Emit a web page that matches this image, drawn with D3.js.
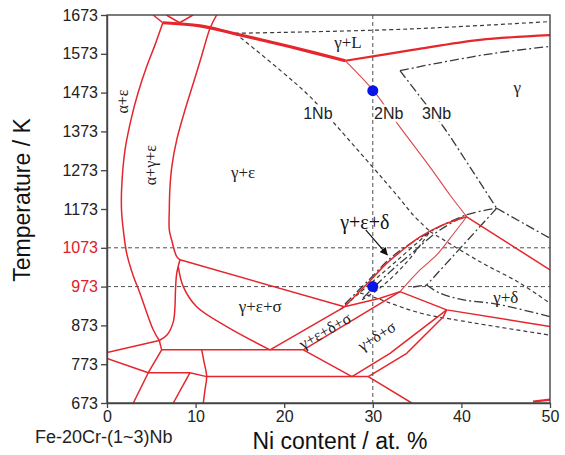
<!DOCTYPE html>
<html>
<head>
<meta charset="utf-8">
<script src="https://cdn.jsdelivr.net/npm/d3@7"></script>
<style>
  body { margin: 0; background: #fff; }
  svg { display: block; }
</style>
</head>
<body>
<svg id="chart" width="565" height="455"></svg>
<script>
// ---------- axis ticks ----------
const niTicks = [0, 10, 20, 30, 40, 50];
const tempTicks = [673, 773, 873, 973, 1073, 1173, 1273, 1373, 1473, 1573, 1673];
const highlightTemps = [973, 1073];
const refNi = [30];

// ---------- Fe-20Cr-2Nb boundaries (solid), points are [Ni at.%, T / K] ----------
const alphaTop      = [[5.2, 1673], [6.3, 1653]];
const notchTop      = [[6.7, 1673], [8.2, 1653], [9.7, 1673]];
const liquidusThick = [[6.3, 1653], [10.5, 1645], [14.2, 1626], [20.7, 1591], [26.9, 1555]];
const liquidusRight = [[26.9, 1555], [34.5, 1583], [42.1, 1609], [50, 1621]];
const solvus2       = [[26.9, 1555], [30, 1480], [33.07, 1384], [36.46, 1281], [38.71, 1209], [40.6, 1153]];
const boundaryA     = [[6.3, 1653], [5.42, 1596], [4.48, 1540], [3.5, 1472], [2.79, 1411], [2.03, 1325],
                       [1.66, 1230], [1.64, 1170], [1.84, 1119], [2.22, 1059], [2.93, 1003], [3.72, 956],
                       [5.23, 861], [5.9, 834]];
const boundaryB     = [[12.38, 1673], [11.63, 1639], [10.61, 1562], [9.74, 1497], [8.8, 1428], [7.87, 1351],
                       [7.34, 1286], [7.11, 1230], [7.03, 1170], [7.03, 1119], [7.3, 1093], [7.87, 1050],
                       [8.24, 1042]];
const boundaryC     = [[8.24, 1042], [7.87, 1007], [7.73, 964], [7.67, 921], [7.48, 882], [6.77, 848], [5.9, 834]];
const sigmaTop      = [[8.24, 1042], [26.8, 921]];
const sigmaBottom   = [[8.05, 1024], [8.61, 973], [10.12, 921], [13.51, 870], [18.4, 810]];
const stripUpper    = [[18.4, 810], [26.8, 921]];
const stripLower    = [[22.16, 810], [33.07, 960]];
const deltaSigmaTop = [[26.8, 921], [30.81, 943], [33.07, 960]];
const lensUpper     = [[26.8, 921], [28.22, 954], [29.68, 987.5], [31.38, 1029], [33.07, 1062],
                       [35.33, 1101], [37.58, 1129], [40.6, 1153]];
const lensLower     = [[33.07, 960], [35.33, 1016], [37.21, 1054.5], [39.09, 1108.6], [40.6, 1153]];
const peakRight     = [[40.6, 1153], [50, 1016]];
const deltaRight    = [[33.07, 960], [38.34, 913], [50, 870]];
const sigmaRightA   = [[27.65, 741], [31.94, 801], [38.34, 913]];
const sigmaRightB   = [[29.49, 741], [33.83, 801], [37.96, 895.5], [38.34, 913]];
const isoUpper      = [[6.17, 810], [22.16, 810]];
const sigmaDrop     = [[22.16, 810], [27.65, 741]];
const isoLower      = [[11.25, 741], [29.49, 741]];
const lowDrop       = [[29.49, 741], [34.39, 673]];
const leftUpper     = [[0, 803], [5.9, 834]];
const leftJoin      = [[5.9, 834], [6.17, 810]];
const leftDrop      = [[6.17, 810], [4.66, 751], [2.97, 673]];
const leftLower     = [[0, 788], [4.66, 751]];
const isoMid        = [[4.66, 751], [9.37, 751]];
const midStep       = [[9.37, 751], [11.25, 741]];
const midDrop       = [[9.37, 751], [7.48, 673]];
const vert11        = [[10.69, 810], [10.95, 779], [11.25, 741], [11.06, 707], [10.87, 673]];
const cornerMark    = [[48.08, 676.5], [50, 681.5]];

// ---------- Fe-20Cr-1Nb boundaries (dashed) ----------
const liquidus1  = [[14.45, 1626], [19.53, 1628], [34.2, 1637], [50, 1656]];
const solvus1    = [[14.45, 1626], [19.53, 1531], [22.91, 1462.5], [26.3, 1377], [32.7, 1209], [34.54, 1158], [36.46, 1115]];
const right1     = [[36.46, 1115], [42.1, 1037], [46.61, 982], [50, 930]];
const lens1Upper = [[26.3, 913], [29.68, 980], [33.07, 1047], [36.46, 1115]];
const lens1Lower = [[28.78, 939], [30.81, 969.5], [33.86, 1036.5], [36.46, 1115]];
const lower1     = [[28.56, 957], [30.44, 943], [35.33, 905], [40.18, 884], [50, 848]];

// ---------- Fe-20Cr-3Nb boundaries (dash-dot) ----------
const liquidus3  = [[33.07, 1529.5], [37.2, 1548.5], [43.6, 1574], [50, 1592]];
const solvus3    = [[33.07, 1529.5], [35.33, 1462.5], [37.96, 1385], [40.97, 1281], [43.98, 1175]];
const right3     = [[43.98, 1175], [50, 1097.5]];
const drop3      = [[43.98, 1175], [36.08, 977]];
const lower3     = [[36.08, 977], [37.58, 956], [40.22, 939], [43.98, 928], [50, 895.5]];
const stub3      = [[34.54, 972], [36.08, 977]];
const lens3Upper = [[26.86, 928], [29.68, 993], [32.28, 1052], [36.46, 1114], [40.6, 1158], [43.98, 1175]];
const lens3Lower = [[28.9, 944], [31.94, 1011], [34.54, 1062], [37.58, 1119], [40.6, 1158]];

// ---------- marked compositions ----------
const points = [[30, 1478], [30, 973]];

// ---------- phase-field labels: [text, Ni, T] ----------
const phaseLabels = [
  ["γ+L", 27.2, 1601],
  ["γ", 46.3, 1485],
  ["γ+ε", 15.35, 1266],
  ["γ+ε+σ", 17.3, 923],
  ["γ+δ", 45.0, 946]
];
const verticalLabels = [["α+ε", 1.8, 1450], ["α+γ+ε", 4.9, 1286]];
const slantLabels = [["γ+ε+δ+σ", 24.6, 859, -30], ["γ+δ+σ", 30.44, 846, -32]];
const alloyLabels = [["1Nb", 23.8, 1420], ["2Nb", 31.8, 1420], ["3Nb", 37.2, 1420]];
const lensLabel = ["γ+ε+δ", 29.1, 1140];
const lensArrow = [[29.2, 1119], [31.64, 1054.5]];

// ---------- drawing ----------
const svg = d3.select("#chart");
const x = d3.scaleLinear().domain([0, 50]).range([107, 550]);
const y = d3.scaleLinear().domain([673, 1673]).range([403, 15]);

const RED = "#e5262c";
const INK = "#3a3a3a";
const styles = {
  thick:  { stroke: RED, width: 3.2 },
  bold:   { stroke: RED, width: 2.2 },
  red:    { stroke: RED, width: 1.5 },
  thin:   { stroke: "#d9474b", width: 1.1 },
  dash:   { stroke: INK, width: 1.2, dash: "4,3" },
  dashdot:{ stroke: INK, width: 1.3, dash: "9,3,2,3" }
};

const smooth = d3.line().x(d => x(d[0])).y(d => y(d[1])).curve(d3.curveCatmullRom.alpha(0.5));
const straight = d3.line().x(d => x(d[0])).y(d => y(d[1]));

function draw(g, pts, style, linear) {
  const s = styles[style];
  g.append("path")
    .attr("d", (linear ? straight : smooth)(pts))
    .attr("fill", "none")
    .attr("stroke", s.stroke)
    .attr("stroke-width", s.width)
    .attr("stroke-dasharray", s.dash || null)
    .attr("stroke-linejoin", "round");
}

const plot = svg.append("g");
svg.append("defs").append("clipPath").attr("id", "clip")
  .append("rect").attr("x", 107).attr("y", 15).attr("width", 443).attr("height", 388);
plot.attr("clip-path", "url(#clip)");

// horizontal reference isotherms
plot.selectAll("line.href").data(highlightTemps).enter().append("line")
  .attr("x1", x(0)).attr("x2", x(50))
  .attr("y1", d => y(d)).attr("y2", d => y(d))
  .attr("stroke", "#505050").attr("stroke-width", 1).attr("stroke-dasharray", "4,3");

// 1Nb
[liquidus1, solvus1, right1, lens1Upper, lens1Lower, lower1].forEach(p => draw(plot, p, "dash"));
// 3Nb
[liquidus3, solvus3, lens3Upper, lens3Lower, lower3].forEach(p => draw(plot, p, "dashdot"));
[right3, drop3, stub3].forEach(p => draw(plot, p, "dashdot", true));

// 2Nb
draw(plot, liquidusThick, "thick");
draw(plot, liquidusRight, "bold");
draw(plot, solvus2, "thin");
draw(plot, lensLower, "thin");
[alphaTop, boundaryA, boundaryB, boundaryC, sigmaBottom, lensUpper].forEach(p => draw(plot, p, "red"));
draw(plot, notchTop, "red", true);
[sigmaTop, stripUpper, stripLower, deltaSigmaTop, peakRight, deltaRight, sigmaRightA, sigmaRightB,
 isoUpper, sigmaDrop, isoLower, lowDrop, leftUpper, leftJoin, leftDrop, leftLower, isoMid, midStep,
 midDrop].forEach(p => draw(plot, p, "red", true));
draw(plot, vert11, "red");
draw(plot, cornerMark, "bold", true);

// labels
const serif = "'Liberation Serif', 'Times New Roman', serif";
const sans = "'Liberation Sans', Arial, Helvetica, sans-serif";

svg.selectAll("text.nb").data(alloyLabels).enter().append("text")
  .attr("x", d => x(d[1])).attr("y", d => y(d[2]))
  .attr("text-anchor", "middle").attr("dominant-baseline", "central")
  .attr("font-family", sans).attr("font-size", 16).attr("fill", "#222")
  .attr("stroke", "#fff").attr("stroke-width", 5).attr("paint-order", "stroke")
  .text(d => d[0]);

svg.selectAll("text.phase").data(phaseLabels).enter().append("text")
  .attr("x", d => x(d[1])).attr("y", d => y(d[2]))
  .attr("text-anchor", "middle").attr("dominant-baseline", "central")
  .attr("font-family", serif).attr("font-size", 17).attr("fill", "#222")
  .text(d => d[0]);

svg.selectAll("text.vert").data(verticalLabels).enter().append("text")
  .attr("transform", d => `translate(${x(d[1])},${y(d[2])}) rotate(-90)`)
  .attr("text-anchor", "middle").attr("dominant-baseline", "central")
  .attr("font-family", serif).attr("font-size", 16).attr("fill", "#222")
  .text(d => d[0]);

svg.selectAll("text.slant").data(slantLabels).enter().append("text")
  .attr("transform", d => `translate(${x(d[1])},${y(d[2])}) rotate(${d[3]})`)
  .attr("text-anchor", "middle").attr("dominant-baseline", "central")
  .attr("font-family", serif).attr("font-size", 16).attr("fill", "#222")
  .text(d => d[0]);

svg.append("text")
  .attr("x", x(lensLabel[1])).attr("y", y(lensLabel[2]))
  .attr("text-anchor", "middle").attr("dominant-baseline", "central")
  .attr("font-family", serif).attr("font-size", 20).attr("fill", "#111")
  .text(lensLabel[0]);

// arrow pointing into the narrow three-phase lens
svg.append("defs").append("marker")
  .attr("id", "head").attr("viewBox", "0 0 10 10").attr("refX", 9).attr("refY", 5)
  .attr("markerWidth", 9).attr("markerHeight", 8).attr("markerUnits", "userSpaceOnUse")
  .attr("orient", "auto")
  .append("path").attr("d", "M0,0 L10,5 L0,10 Z").attr("fill", "#111");
svg.append("path")
  .attr("d", straight(lensArrow))
  .attr("stroke", "#111").attr("stroke-width", 1.2).attr("fill", "none")
  .attr("marker-end", "url(#head)");

// vertical reference composition
svg.selectAll("line.vref").data(refNi).enter().append("line")
  .attr("x1", d => x(d)).attr("x2", d => x(d))
  .attr("y1", y(1673)).attr("y2", y(673))
  .attr("stroke", "#505050").attr("stroke-width", 1).attr("stroke-dasharray", "4,3");

// marked compositions
svg.selectAll("circle.pt").data(points).enter().append("circle")
  .attr("cx", d => x(d[0])).attr("cy", d => y(d[1])).attr("r", 5.5)
  .attr("fill", "#0a14e6");

// frame
svg.append("rect").attr("x", 107).attr("y", 15).attr("width", 443).attr("height", 388)
  .attr("fill", "none").attr("stroke", "#444").attr("stroke-width", 1.4);

// axes
const yAxis = svg.append("g").attr("transform", `translate(${x(0)},0)`)
  .call(d3.axisLeft(y).tickValues(tempTicks).tickSize(6).tickSizeOuter(0).tickPadding(3).tickFormat(d3.format("d")));
const xAxis = svg.append("g").attr("transform", `translate(0,${y(673)})`)
  .call(d3.axisBottom(x).tickValues(niTicks).tickSize(5).tickSizeOuter(0).tickPadding(3).tickFormat(d3.format("d")));
[yAxis, xAxis].forEach(a => {
  a.select(".domain").attr("stroke", "#444").attr("stroke-width", 1.4);
  a.selectAll(".tick line").attr("stroke", "#444").attr("stroke-width", 1.3);
  a.selectAll(".tick text").attr("font-family", sans).attr("font-size", 16).attr("fill", "#222");
});
yAxis.selectAll(".tick text").filter(d => highlightTemps.includes(d)).attr("fill", "#e0202a");

// titles
svg.append("text")
  .attr("transform", "translate(30,200) rotate(-90)")
  .attr("text-anchor", "middle")
  .attr("font-family", sans).attr("font-size", 23).attr("fill", "#111")
  .text("Temperature / K");
svg.append("text")
  .attr("x", 340).attr("y", 449).attr("text-anchor", "middle")
  .attr("font-family", sans).attr("font-size", 23).attr("fill", "#111")
  .text("Ni content / at. %");
svg.append("text")
  .attr("x", 35).attr("y", 443)
  .attr("font-family", sans).attr("font-size", 18).attr("fill", "#222")
  .text("Fe-20Cr-(1~3)Nb");
</script>
</body>
</html>
